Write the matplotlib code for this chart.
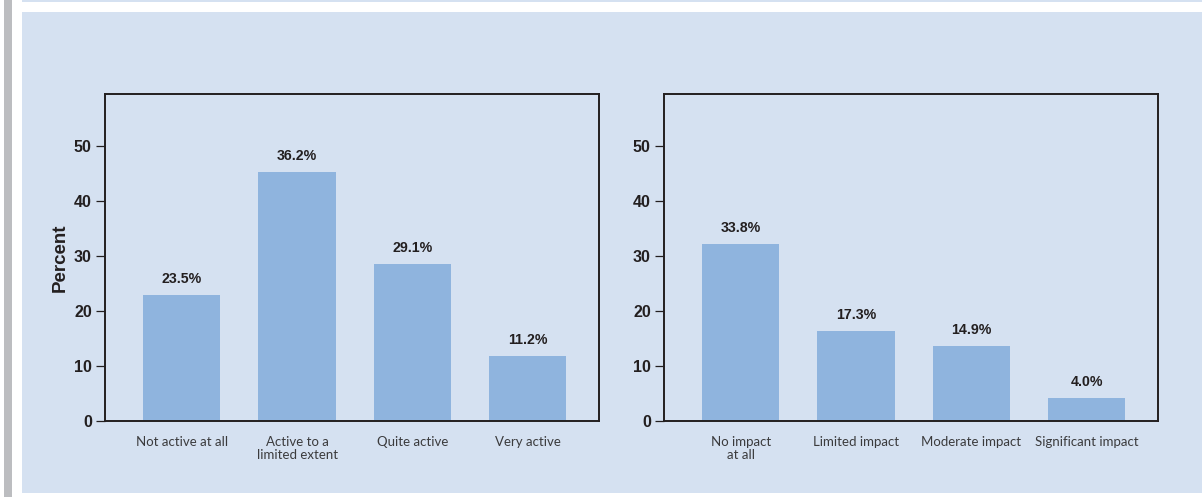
import matplotlib
matplotlib.use("Agg")
import matplotlib.pyplot as plt
from matplotlib.patches import Rectangle

# ---- data ----
left_categories = ["Not active at all", "Active to a\nlimited extent", "Quite active", "Very active"]
left_bar_heights = [22.9, 45.4, 28.6, 11.8]
left_value_labels = ["23.5%", "36.2%", "29.1%", "11.2%"]

right_categories = ["No impact\nat all", "Limited impact", "Moderate impact", "Significant impact"]
right_bar_heights = [32.2, 16.4, 13.6, 4.1]
right_value_labels = ["33.8%", "17.3%", "14.9%", "4.0%"]

y_ticks = [0, 10, 20, 30, 40, 50]
y_label = "Percent"

# ---- style ----
W, H = 1202, 497
PANEL = "#d5e1f1"
BAR = "#8fb4de"
DARK = "#231f20"
CAT = "#3b3b3d"
NUM_FONT = "Liberation Sans"
CAT_FONT = "Lato"

fig = plt.figure(figsize=(W / 100, H / 100), dpi=100)
fig.patch.set_facecolor("white")

# background decoration
fig.add_artist(Rectangle((4 / W, 0), 8 / W, 1, transform=fig.transFigure,
                         facecolor="#bcbdc0", edgecolor="none", zorder=0))
fig.add_artist(Rectangle((22 / W, 1 - 493 / H), 1 - 22 / W, (493 - 12) / H,
                         transform=fig.transFigure, facecolor=PANEL,
                         edgecolor="none", zorder=0))
fig.add_artist(Rectangle((22 / W, 1 - 2 / H), 1 - 22 / W, 2 / H,
                         transform=fig.transFigure, facecolor=PANEL,
                         edgecolor="none", zorder=0))

bottom = 1 - 421 / H
height = (421 - 94.3) / H
axes_specs = [
    (105 / W, (599 - 105) / W, left_categories, left_bar_heights, left_value_labels, True),
    (664 / W, (1158 - 664) / W, right_categories, right_bar_heights, right_value_labels, False),
]

for x0, w, cats, heights, labels, show_ylabel in axes_specs:
    ax = fig.add_axes([x0, bottom, w, height])
    ax.set_facecolor("none")
    xs = list(range(len(cats)))
    ax.bar(xs, heights, width=0.67, color=BAR, edgecolor="none", zorder=2)
    for x, h, lab in zip(xs, heights, labels):
        ax.annotate(lab, (x, h), xytext=(0, 9), textcoords="offset pixels",
                    ha="center", va="bottom", fontsize=10.2, fontweight="bold",
                    family=NUM_FONT, color=DARK)
    ax.set_xlim(-0.667, 3.62)
    ax.set_ylim(0, 59.5)
    ax.set_yticks(y_ticks)
    ax.set_yticklabels([str(t) for t in y_ticks], fontsize=11.5, fontweight="bold",
                       family=NUM_FONT, color=DARK)
    ax.tick_params(axis="y", direction="out", length=6.5, width=0.9, pad=3, color=DARK)
    ax.set_xticks(xs)
    ax.set_xticklabels(cats, fontsize=9.5, family=CAT_FONT, color=CAT, linespacing=1.05)
    ax.tick_params(axis="x", length=0, pad=11)
    for s in ax.spines.values():
        s.set_linewidth(1.4)
        s.set_color(DARK)
        s.set_zorder(3)
    if show_ylabel:
        ax.set_ylabel(y_label, fontsize=13.5, fontweight="bold", family=NUM_FONT,
                      color=DARK, labelpad=4)

fig.savefig("out.png", dpi=100, facecolor="white")
